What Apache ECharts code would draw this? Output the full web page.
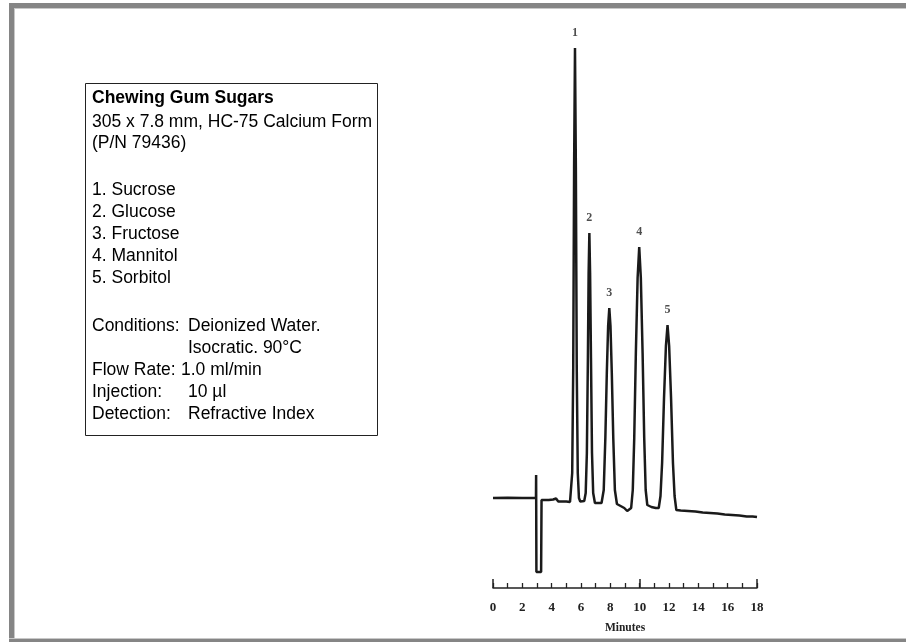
<!DOCTYPE html>
<html>
<head>
<meta charset="utf-8">
<script src="https://cdn.jsdelivr.net/npm/echarts@6/dist/echarts.min.js"></script>
<style>
  html, body { margin: 0; padding: 0; background: #fff; }
  #chart { width: 906px; height: 642px; }
</style>
</head>
<body>
<div id="chart"></div>
<script>
// Detector trace: retention time (min) and signal (arbitrary units)
const traceTime = [
  0, 1, 2, 2.93, 2.94, 2.96, 3.28, 3.31, 3.8, 4.1, 4.3, 4.45, 5.0, 5.25,
  5.32, 5.40, 5.47, 5.53, 5.59, 5.65, 5.71, 5.78, 5.86, 5.95, 6.05,
  6.22, 6.32, 6.40, 6.47, 6.52, 6.57, 6.62, 6.68, 6.75, 6.83, 6.95, 7.07,
  7.40, 7.55, 7.66, 7.76, 7.85, 7.93, 8.01, 8.10, 8.20, 8.31, 8.45, 8.7, 8.95, 9.15, 9.27,
  9.42, 9.53, 9.63, 9.74, 9.86, 9.97, 10.08, 10.20, 10.31, 10.41, 10.52, 10.8, 11.1, 11.3,
  11.42, 11.53, 11.66, 11.79, 11.90, 12.01, 12.14, 12.27, 12.38, 12.5, 12.8,
  13.3, 13.8, 14.3, 14.8, 15.3, 15.8, 16.3, 16.8, 17.3, 17.7, 18
];
const traceSignal = [
  0, 0.3, 0, 0, 23, -74, -74, -2, -2, -1.5, -0.5, -3.5, -3.5, -4,
  -2, 25, 130, 330, 450, 330, 130, 25, 0, -3.5, -4,
  -3, 5, 45, 140, 225, 265, 225, 140, 45, 5, -5, -6,
  -5, 8, 60, 125, 172, 190, 172, 125, 60, 8, -6, -8, -10, -13, -14,
  -10, 8, 60, 145, 220, 251, 220, 145, 60, 8, -7, -9, -10, -10,
  2, 35, 100, 152, 173, 152, 100, 35, 2, -12, -12.5,
  -13, -13.5, -14.5, -15, -15.5, -16.5, -17, -17.5, -18.5, -18.5, -19
];

// Peak numbering
const peakNames = ['1', '2', '3', '4', '5'];
const peakTimes = [5.59, 6.57, 7.93, 9.97, 11.90];
const peakHeights = [450, 265, 190, 251, 173];

// Time axis
const axisMin = 0;
const axisMax = 18;
const axisLongTicks = [0, 10, 18];
const axisName = 'Minutes';

// Legend box text
const boxTitle = 'Chewing Gum Sugars';
const boxColumn = '305 x 7.8 mm, HC-75 Calcium Form';
const boxPart = '(P/N 79436)';
const compounds = ['1. Sucrose', '2. Glucose', '3. Fructose', '4. Mannitol', '5. Sorbitol'];
const conditionLabels = ['Conditions:', '', 'Flow Rate:', 'Injection:', 'Detection:'];
const conditionValues = ['Deionized Water.', 'Isocratic. 90°C', '1.0 ml/min', '10 µl', 'Refractive Index'];

const traceData = traceTime.map((t, i) => [t, traceSignal[i]]);
const peakData = peakTimes.map((t, i) => ({ value: [t, peakHeights[i]], name: peakNames[i] }));

const sans = '"Liberation Sans", Arial, sans-serif';
const serif = '"Liberation Serif", "Times New Roman", serif';
const fs = 17.5;

const textEl = (x, y, text, weight) => ({
  type: 'text', x: x, y: y,
  style: { text: text, fill: '#000', font: (weight || 'normal') + ' ' + fs + 'px ' + sans, verticalAlign: 'middle' }
});

const boxTexts = [];
boxTexts.push(textEl(92, 98, boxTitle, 'bold'));
boxTexts.push(textEl(92, 122, boxColumn));
boxTexts.push(textEl(92, 143, boxPart));
compounds.forEach((c, i) => boxTexts.push(textEl(92, 190 + i * 22, c)));
conditionLabels.forEach((l, i) => {
  const y = 326 + i * 22;
  if (l) boxTexts.push(textEl(92, y, l));
  boxTexts.push(textEl(l === 'Flow Rate:' ? 181 : 188, y, conditionValues[i]));
});

const chart = echarts.init(document.getElementById('chart'), null, { renderer: 'canvas' });
chart.setOption({
  backgroundColor: '#fff',
  animation: false,
  grid: { left: 493, top: 38, width: 264, height: 550 },
  xAxis: [
    {
      type: 'value', min: axisMin, max: axisMax, interval: 1,
      name: axisName, nameLocation: 'middle', nameGap: 34,
      nameTextStyle: { fontFamily: serif, fontWeight: 'bold', fontSize: 11.5, color: '#222' },
      axisLine: { show: true, onZero: false, lineStyle: { color: '#222', width: 1.5 } },
      axisTick: { show: true, inside: true, length: 5, lineStyle: { color: '#222', width: 1.3 } },
      minorTick: { show: false },
      splitLine: { show: false },
      axisLabel: {
        margin: 13, fontFamily: serif, fontWeight: 'bold', fontSize: 13, color: '#222',
        formatter: v => (v % 2 === 0 ? String(v) : '')
      }
    },
    {
      type: 'value', min: axisMin, max: axisMax, position: 'bottom',
      axisLine: { show: false, onZero: false },
      axisTick: { show: true, inside: true, length: 9, customValues: axisLongTicks, lineStyle: { color: '#222', width: 1.5 } },
      axisLabel: { show: false },
      splitLine: { show: false }
    }
  ],
  yAxis: { type: 'value', min: -90, max: 460, show: false },
  series: [
    {
      type: 'line', data: traceData, symbol: 'none', smooth: false,
      lineStyle: { color: '#1a1a1a', width: 2.5 }, z: 3
    },
    {
      type: 'scatter', data: peakData, symbolSize: 0,
      label: {
        show: true, position: 'top', distance: 9, formatter: p => p.name,
        fontFamily: serif, fontWeight: 'bold', fontSize: 12, color: '#222'
      }
    }
  ],
  graphic: [
    // page frame
    { type: 'rect', shape: { x: 9, y: 3, width: 897, height: 5 }, style: { fill: '#858585' } },
    { type: 'rect', shape: { x: 9, y: 8, width: 897, height: 1 }, style: { fill: '#c8c8c8' } },
    { type: 'rect', shape: { x: 9, y: 3, width: 5, height: 639 }, style: { fill: '#858585' } },
    { type: 'rect', shape: { x: 14, y: 8, width: 1, height: 631 }, style: { fill: '#c8c8c8' } },
    { type: 'rect', shape: { x: 9, y: 638, width: 897, height: 1 }, style: { fill: '#c8c8c8' } },
    { type: 'rect', shape: { x: 9, y: 639, width: 897, height: 3 }, style: { fill: '#858585' } },
    // legend box
    { type: 'rect', shape: { x: 85.5, y: 83.5, width: 292, height: 352 }, style: { fill: '#fff', stroke: '#222', lineWidth: 1 } }
  ].concat(boxTexts)
});
</script>
</body>
</html>
